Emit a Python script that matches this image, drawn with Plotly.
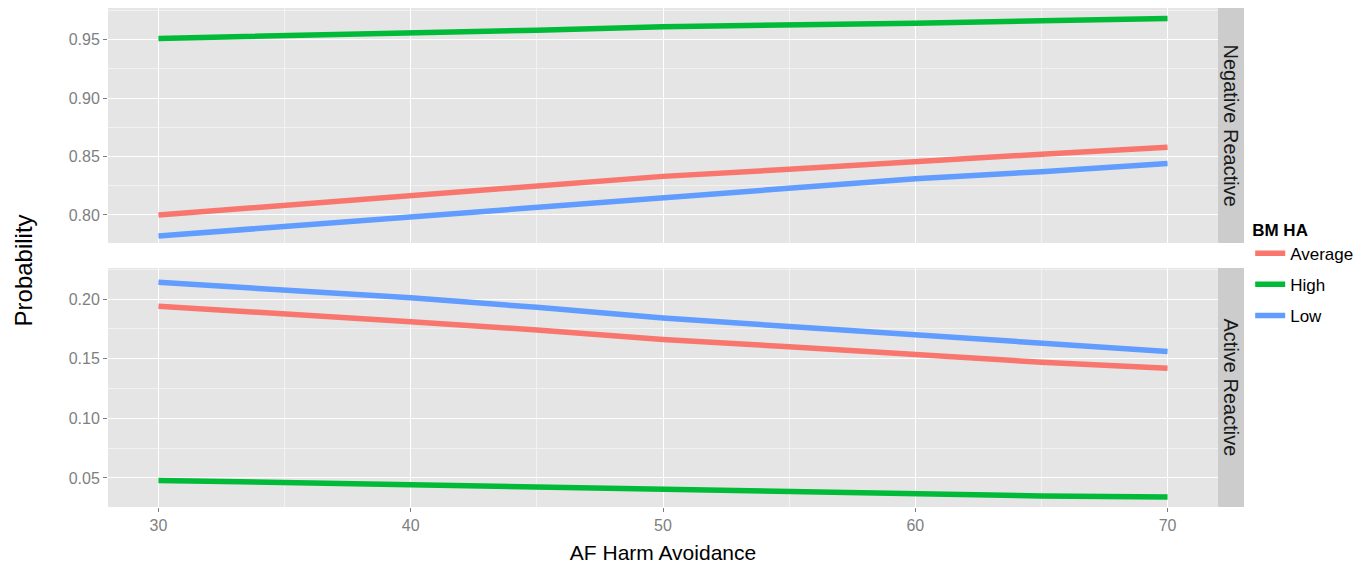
import plotly.graph_objects as go

x_vals = [30, 35, 40, 45, 50, 55, 60, 65, 70]

neg_average = [0.800, 0.808, 0.817, 0.825, 0.833, 0.839, 0.846, 0.852, 0.858]
neg_high = [0.951, 0.953, 0.956, 0.958, 0.961, 0.962, 0.964, 0.966, 0.968]
neg_low = [0.782, 0.790, 0.799, 0.807, 0.815, 0.823, 0.831, 0.837, 0.844]

act_average = [0.194, 0.188, 0.181, 0.174, 0.166, 0.160, 0.153, 0.147, 0.142]
act_high = [0.048, 0.046, 0.044, 0.042, 0.041, 0.039, 0.037, 0.035, 0.034]
act_low = [0.214, 0.208, 0.201, 0.193, 0.184, 0.177, 0.170, 0.163, 0.156]

groups = ["Average", "High", "Low"]
colors = {"Average": "#F8766D", "High": "#00BA38", "Low": "#619CFF"}
facets = ["Negative Reactive", "Active Reactive"]

neg = {"Average": neg_average, "High": neg_high, "Low": neg_low}
act = {"Average": act_average, "High": act_high, "Low": act_low}

FONT = "Liberation Sans, Arial, sans-serif"
fig = go.Figure()
for g in groups:
    fig.add_trace(go.Scatter(x=x_vals, y=neg[g], mode="lines", name=g,
                             line=dict(color=colors[g], width=5.5),
                             xaxis="x", yaxis="y", legendgroup=g, showlegend=True))
for g in groups:
    fig.add_trace(go.Scatter(x=x_vals, y=act[g], mode="lines", name=g,
                             line=dict(color=colors[g], width=5.5),
                             xaxis="x2", yaxis="y2", legendgroup=g, showlegend=False))

tickfont = dict(family=FONT, size=16, color="#7f7f7f")
axis_common = dict(showgrid=True, gridcolor="white", gridwidth=1.3, zeroline=False,
                   ticks="outside", ticklen=4, tickcolor="#7f7f7f", tickfont=tickfont,
                   showline=False)

# page body has an 8px margin, so the figure is sized/offset to compensate
fig.update_layout(
    width=1355, height=556,
    margin=dict(l=100, r=145, t=0, b=57, autoexpand=False),
    paper_bgcolor="white", plot_bgcolor="#E5E5E5",
    font=dict(family=FONT),
    xaxis=dict(domain=[0, 1], range=[28, 72], anchor="y", showticklabels=False, ticks="",
               tickvals=[30, 40, 50, 60, 70],
               minor=dict(tickvals=[35, 45, 55, 65], gridcolor="#F2F2F2", gridwidth=0.8, showgrid=True),
               **{k: v for k, v in axis_common.items() if k not in ("ticks",)}),
    yaxis=dict(domain=[0.529, 1], range=[0.776, 0.977], anchor="x",
               tickvals=[0.80, 0.85, 0.90, 0.95], ticktext=["0.80", "0.85", "0.90", "0.95"],
               minor=dict(tickvals=[0.825, 0.875, 0.925, 0.975], gridcolor="#F2F2F2", gridwidth=0.8, showgrid=True, ticks=""),
               **axis_common),
    xaxis2=dict(domain=[0, 1], range=[28, 72], anchor="y2",
                tickvals=[30, 40, 50, 60, 70],
                minor=dict(tickvals=[35, 45, 55, 65], gridcolor="#F2F2F2", gridwidth=0.8, showgrid=True, ticks=""),
                title=dict(text="AF Harm Avoidance", font=dict(family=FONT, size=21, color="black"), standoff=12),
                **axis_common),
    yaxis2=dict(domain=[0, 0.479], range=[0.0257, 0.226], anchor="x2",
                tickvals=[0.05, 0.10, 0.15, 0.20], ticktext=["0.05", "0.10", "0.15", "0.20"],
                minor=dict(tickvals=[0.075, 0.125, 0.175, 0.225], gridcolor="#F2F2F2", gridwidth=0.8, showgrid=True, ticks=""),
                **axis_common),
    legend=dict(x=1.029, y=0.588, xanchor="left", yanchor="top",
                title=dict(text="<b>BM HA</b>", font=dict(family=FONT, size=17, color="black")),
                font=dict(family=FONT, size=17, color="black"),
                bgcolor="rgba(0,0,0,0)", itemwidth=30, tracegroupgap=6),
    showlegend=True,
)

# facet strips
strip_x0, strip_x1 = 1.0, 1.0234
fig.add_shape(type="rect", xref="paper", yref="paper", x0=strip_x0, x1=strip_x1,
              y0=0.529, y1=1, fillcolor="#CCCCCC", line=dict(width=0), layer="below")
fig.add_shape(type="rect", xref="paper", yref="paper", x0=strip_x0, x1=strip_x1,
              y0=0, y1=0.479, fillcolor="#CCCCCC", line=dict(width=0), layer="below")
fig.add_annotation(x=(strip_x0 + strip_x1) / 2, y=(0.529 + 1) / 2, xref="paper", yref="paper",
                   text=facets[0], textangle=90, showarrow=False, xanchor="center", yanchor="middle",
                   font=dict(family=FONT, size=20, color="#1A1A1A"))
fig.add_annotation(x=(strip_x0 + strip_x1) / 2, y=0.479 / 2, xref="paper", yref="paper",
                   text=facets[1], textangle=90, showarrow=False, xanchor="center", yanchor="middle",
                   font=dict(family=FONT, size=20, color="#1A1A1A"))

# y axis title
fig.add_annotation(x=-0.0766, y=0.474, xref="paper", yref="paper", text="Probability",
                   textangle=-90, showarrow=False, xanchor="center", yanchor="middle",
                   font=dict(family=FONT, size=24, color="black"))

fig.write_html("out.html")
